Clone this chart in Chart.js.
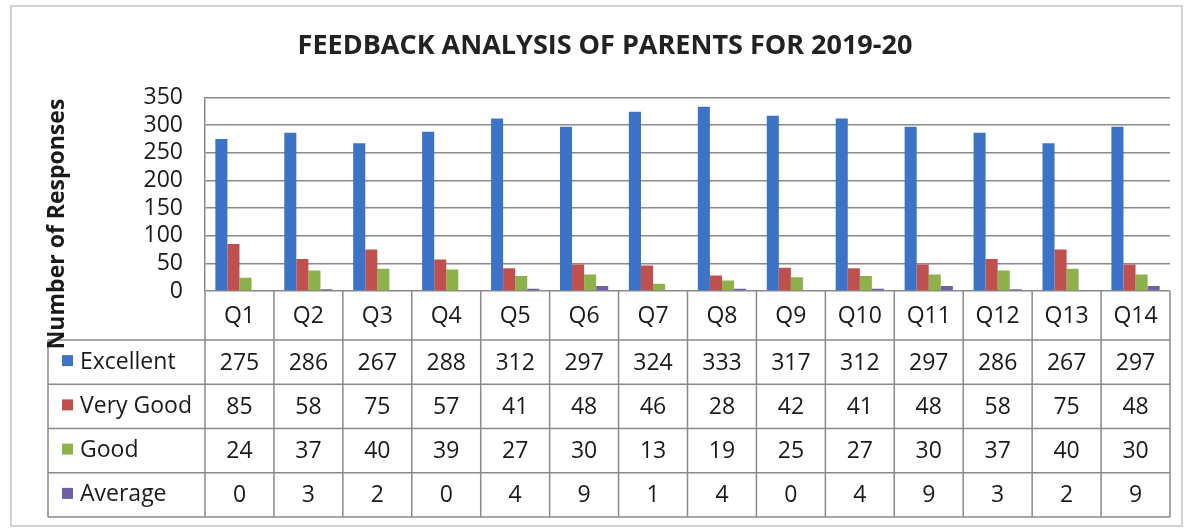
<!DOCTYPE html>
<html>
<head>
<meta charset="utf-8">
<script src="https://cdn.jsdelivr.net/npm/chart.js@4/dist/chart.umd.min.js"></script>
<style>
  body { margin: 0; background: #fff; }
  canvas { display: block; }
</style>
</head>
<body>
<canvas id="feedback_Chart" width="1190" height="531"></canvas>
<script>
const categories = ['Q1', 'Q2', 'Q3', 'Q4', 'Q5', 'Q6', 'Q7', 'Q8', 'Q9', 'Q10', 'Q11', 'Q12', 'Q13', 'Q14'];
const excellent = [275, 286, 267, 288, 312, 297, 324, 333, 317, 312, 297, 286, 267, 297];
const veryGood = [85, 58, 75, 57, 41, 48, 46, 28, 42, 41, 48, 58, 75, 48];
const good = [24, 37, 40, 39, 27, 30, 13, 19, 25, 27, 30, 37, 40, 30];
const average = [0, 3, 2, 0, 4, 9, 1, 4, 0, 4, 9, 3, 2, 9];
const yMin = 0, yMax = 350, yStep = 50;

const FONT = "'Open Sans', sans-serif";
const TXT = '#1a1a1a';
const LINE = '#8a8a8a';

// outer frame + white background
const framePlugin = {
  id: 'frame',
  beforeDraw(chart) {
    const ctx = chart.ctx;
    ctx.save();
    ctx.fillStyle = '#fff';
    ctx.fillRect(0, 0, chart.width, chart.height);
    ctx.strokeStyle = '#c4c4c4';
    ctx.lineWidth = 1.5;
    ctx.strokeRect(11, 6, 1171, 520);
    ctx.restore();
  }
};

// data table under the plot + y title
const tablePlugin = {
  id: 'dataTable',
  afterDraw(chart) {
    const ctx = chart.ctx;
    const area = chart.chartArea;
    const xs = chart.scales.x;
    const n = categories.length;
    const w = xs.width / n;
    const headTop = area.bottom;
    const headBot = headTop + 49;
    const rowH = 44.25;
    const labelLeft = 48;
    const sets = chart.data.datasets;
    const tableBot = headBot + rowH * sets.length;

    ctx.save();
    ctx.strokeStyle = LINE;
    ctx.lineWidth = 1.5;
    ctx.beginPath();
    for (let i = 0; i <= n; i++) {
      const x = i < n ? xs.getPixelForValue(i) - w / 2 : xs.getPixelForValue(n - 1) + w / 2;
      ctx.moveTo(x, headTop);
      ctx.lineTo(x, tableBot);
    }
    ctx.moveTo(labelLeft, headBot);
    ctx.lineTo(labelLeft, tableBot);
    for (let r = 0; r <= sets.length; r++) {
      const y = headBot + r * rowH;
      ctx.moveTo(labelLeft, y);
      ctx.lineTo(area.right, y);
    }
    ctx.stroke();

    ctx.fillStyle = TXT;
    ctx.font = '23px ' + FONT;
    ctx.textAlign = 'center';
    ctx.textBaseline = 'middle';
    categories.forEach((c, i) => {
      ctx.fillText(c, xs.getPixelForValue(i), (headTop + headBot) / 2 + 1);
    });

    sets.forEach((ds, r) => {
      const cy = headBot + r * rowH + rowH / 2;
      ctx.fillStyle = ds.backgroundColor;
      ctx.fillRect(62, cy - 7, 11, 11);
      ctx.fillStyle = TXT;
      ctx.textAlign = 'left';
      ctx.fillText(ds.label, 80, cy);
      ctx.textAlign = 'center';
      ds.data.forEach((v, i) => {
        ctx.fillText(String(v), xs.getPixelForValue(i), cy + 1);
      });
    });

    // y axis title
    ctx.translate(57, 224);
    ctx.rotate(-Math.PI / 2);
    ctx.font = 'bold 23px ' + FONT;
    ctx.textAlign = 'center';
    ctx.fillText('Number of Responses', 0, 0);
    ctx.restore();
  }
};

new Chart(document.getElementById('feedback_Chart'), {
  type: 'bar',
  data: {
    labels: categories,
    datasets: [
      { label: 'Excellent', data: excellent, backgroundColor: '#3d73c6' },
      { label: 'Very Good', data: veryGood, backgroundColor: '#c0504d' },
      { label: 'Good', data: good, backgroundColor: '#8db24c' },
      { label: 'Average', data: average, backgroundColor: '#6e5fa6' }
    ]
  },
  options: {
    responsive: false,
    animation: false,
    devicePixelRatio: 1,
    layout: { padding: { left: 40, right: 20, top: 0, bottom: 240 } },
    datasets: { bar: { categoryPercentage: 0.7, barPercentage: 1.0 } },
    plugins: {
      legend: { display: false },
      tooltip: { enabled: false },
      title: {
        display: true,
        text: 'FEEDBACK ANALYSIS OF PARENTS FOR 2019-20',
        color: '#222',
        font: { family: FONT, size: 27, weight: 'bold', lineHeight: 1.2 },
        padding: { top: 30, bottom: 35 }
      }
    },
    scales: {
      x: { display: false },
      y: {
        min: yMin,
        max: yMax,
        afterFit(s) { s.width = 165; },
        ticks: { stepSize: yStep, autoSkip: false, color: TXT, padding: 22, font: { family: FONT, size: 23 } },
        grid: { color: LINE, lineWidth: 1.5, drawTicks: false },
        border: { display: true, color: LINE, width: 1.5 }
      }
    }
  },
  plugins: [framePlugin, tablePlugin]
});
</script>
</body>
</html>
